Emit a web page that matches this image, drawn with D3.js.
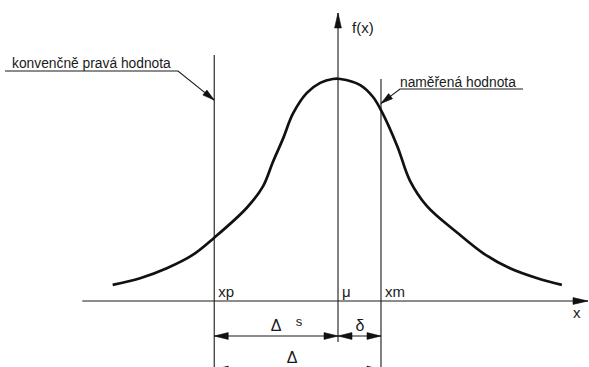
<!DOCTYPE html>
<meta charset="utf-8">
<style>
body { margin: 0; background: #fff; }
text { font-family: "Liberation Sans", Arial, sans-serif; fill: #1a1a1a; }
.thin { stroke: #1a1a1a; stroke-width: 1.1px; fill: none; }
.curve { stroke: #111; stroke-width: 2.7px; fill: none; }
</style>
<body>
<script src="https://cdn.jsdelivr.net/npm/d3@7/dist/d3.min.js"></script>
<script>

// curve points (mu = 0, peak f = 0.4)
var curveX = [-3.04, -2.67, -2.31, -1.96, -1.67, -1.23, -1.01, -0.88, -0.74, -0.61, -0.42, -0.24, -0.07,
              0.03, 0.30, 0.47, 0.58, 0.80, 0.97, 1.20, 1.61, 1.96, 2.32, 2.69, 3.02];
var curveY = [0.029, 0.041, 0.059, 0.083, 0.114, 0.168, 0.207, 0.250, 0.293, 0.337, 0.375, 0.393, 0.400,
              0.400, 0.389, 0.368, 0.344, 0.279, 0.217, 0.171, 0.123, 0.086, 0.059, 0.041, 0.029];

// marked positions on the x axis
var markNames = ["xp", "μ", "xm"];
var markX = [-1.67, 0, 0.58];

// texts
var leftNote = "konvenčně pravá hodnota";
var rightNote = "naměřená hodnota";
var yLabel = "f(x)", xLabel = "x";

var width = 589, height = 367;

var x = d3.scaleLinear().domain([-3.4, 3.4]).range([86, 590]);
var y = d3.scaleLinear().domain([0, 0.4]).range([301, 79]);

var svg = d3.select("body").append("svg")
    .attr("width", width)
    .attr("height", height);

var heads = svg.append("g").attr("class", "heads");

// filled narrow arrowhead with its tip at (tx,ty), coming from (fx,fy)
function arrowHead(tx, ty, fx, fy, len, hw) {
  len = len || 14; hw = hw || 3.4;
  var a = Math.atan2(ty - fy, tx - fx);
  var bx = tx - len * Math.cos(a), by = ty - len * Math.sin(a);
  var nx = -Math.sin(a) * hw, ny = Math.cos(a) * hw;
  var p = d3.path();
  p.moveTo(tx, ty);
  p.lineTo(bx + nx, by + ny);
  p.lineTo(bx - nx, by - ny);
  p.closePath();
  heads.append("path")
      .attr("d", p.toString())
      .attr("fill", "#111")
      .attr("stroke", "#111")
      .attr("stroke-width", 0.6);
}

var xp = x(markX[0]), mu = x(markX[1]), xm = x(markX[2]);

// x axis
svg.append("line").attr("class", "thin")
    .attr("x1", x(-3.45)).attr("x2", 588).attr("y1", y(0)).attr("y2", y(0));
arrowHead(588, y(0), 500, y(0), 15, 3.4);

// y axis (through mu)
var yTop = y(0.519);
svg.append("line").attr("class", "thin")
    .attr("x1", mu).attr("x2", mu).attr("y1", 342).attr("y2", yTop);
arrowHead(mu, yTop, mu, 100, 15, 3.4);

// vertical lines at xp and xm
svg.append("line").attr("class", "thin")
    .attr("x1", xp).attr("x2", xp).attr("y1", 55).attr("y2", height);
svg.append("line").attr("class", "thin")
    .attr("x1", xm).attr("x2", xm).attr("y1", 79).attr("y2", height);

// the curve
var pts = curveX.map(function(d, i) { return [d, curveY[i]]; });
svg.append("path")
    .datum(pts)
    .attr("class", "curve")
    .attr("d", d3.line()
        .x(function(d) { return x(d[0]); })
        .y(function(d) { return y(d[1]); })
        .curve(d3.curveCatmullRom));

// labels of the marks
svg.selectAll(".mark")
    .data(markNames)
  .enter().append("text")
    .attr("class", "mark")
    .attr("x", function(d, i) { return x(markX[i]) + 4; })
    .attr("y", 297)
    .attr("font-size", "15px")
    .text(function(d) { return d; });

svg.append("text").attr("x", 352).attr("y", 33).attr("font-size", "15px").text(yLabel);
svg.append("text").attr("x", 573).attr("y", 318).attr("font-size", "15px").text(xLabel);

// leader notes
svg.append("text").attr("x", 12).attr("y", 68).attr("font-size", "13.8px").text(leftNote);
var lTip = [xp, y(0.362)];
svg.append("polyline").attr("class", "thin")
    .attr("points", [[5, 71], [178, 71], lTip].join(" "));
arrowHead(lTip[0], lTip[1], 178, 71, 12, 3.2);

svg.append("text").attr("x", 400).attr("y", 87).attr("font-size", "13.8px").text(rightNote);
var rTip = [xm, y(0.356)];
svg.append("polyline").attr("class", "thin")
    .attr("points", [[523, 89], [400, 89], rTip].join(" "));
arrowHead(rTip[0], rTip[1], 400, 89, 12, 3.2);

// dimension lines
function dim(a, b, yy) {
  svg.append("line").attr("class", "thin")
      .attr("x1", a).attr("x2", b).attr("y1", yy).attr("y2", yy);
  arrowHead(a, yy, b, yy);
  arrowHead(b, yy, a, yy);
}
dim(xp, mu, 336);
dim(mu, xm, 336);
dim(xp, xm, 369.5);

heads.raise();

svg.append("text").attr("x", 276).attr("y", 331).attr("text-anchor", "middle")
    .attr("font-size", "16px").text("Δ");
svg.append("text").attr("x", 299).attr("y", 326).attr("text-anchor", "middle")
    .attr("font-size", "13px").text("s");
svg.append("text").attr("x", 360).attr("y", 331).attr("text-anchor", "middle")
    .attr("font-size", "16px").text("δ");
svg.append("text").attr("x", 292).attr("y", 363).attr("text-anchor", "middle")
    .attr("font-size", "16px").text("Δ");

</script>
</body>
</html>
